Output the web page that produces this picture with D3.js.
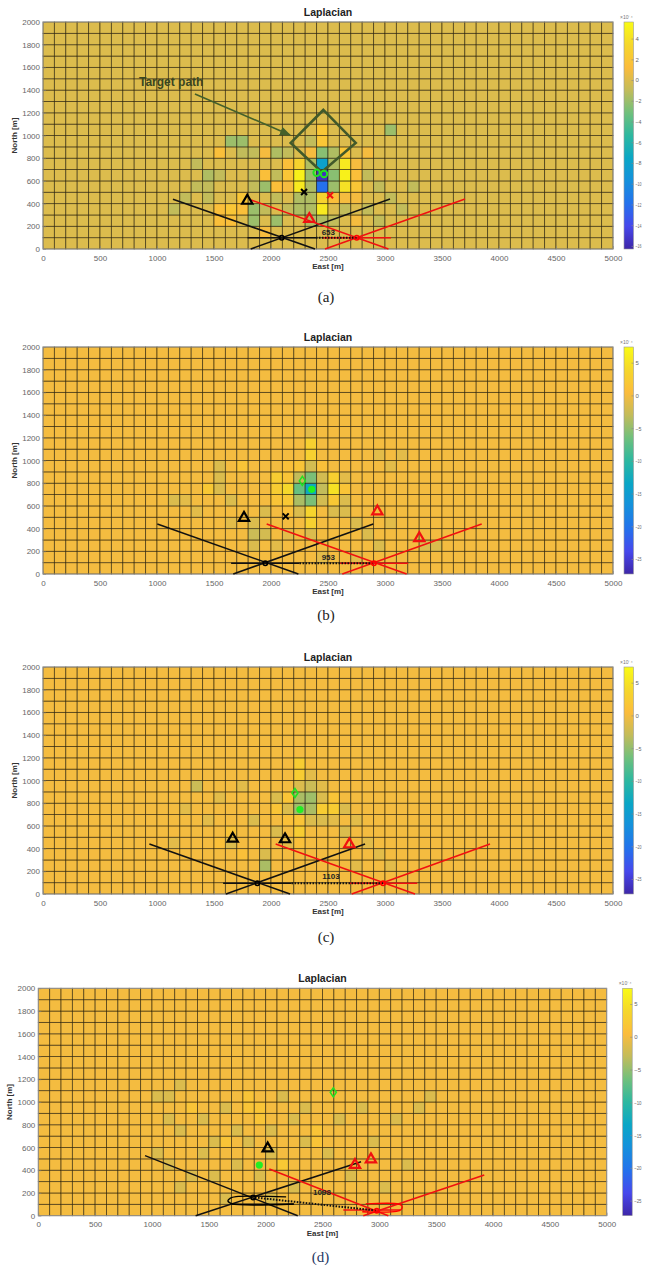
<!DOCTYPE html>
<html><head><meta charset="utf-8">
<script src="https://cdn.jsdelivr.net/npm/d3@7"></script>
<style>body{margin:0;background:#fff}svg{display:block}</style>
</head><body>
<svg id="fig" width="645" height="1265"></svg>
<script>
// ---------- shared ticks ----------
const EAST_TICKS = [0, 500, 1000, 1500, 2000, 2500, 3000, 3500, 4000, 4500, 5000];
const NORTH_TICKS = [0, 200, 400, 600, 800, 1000, 1200, 1400, 1600, 1800, 2000];
const GRID_COLS = 50, GRID_ROWS = 20, CELL_M = 100;
const CB_TICKS_A = [4, 2, 0, -2, -4, -6, -8, -10, -12, -14, -16];
const CB_TICKS_BCD = [5, 0, -5, -10, -15, -20, -25];
const CB_DOMAIN_A = [-16.3, 5.6];
const CB_DOMAIN_BCD = [-27.3, 7.4];
const PARULA = ["#3e26a8","#4748ec","#2471ec","#1590dc","#0aa6c6","#2db8a0","#70c07c","#c3bc5a","#fbbc3c","#f5d72b","#f9fb14"];

// ---------- heat-map anomalies [col,row,value]; all other cells = 0 ----------
const cellsA = [
 [24,10,2],[24,9,2],[24,8,-2.5],[24,7,-8],[24,6,-15.5],[24,5,-12],[24,4,3],[24,3,4.5],[24,2,-1.5],
 [22,7,3],[22,6,5],[22,5,4.5],[22,4,-1.5],[22,3,-1.5],
 [23,9,-1],[23,8,1],[23,7,-1.5],[23,6,-2],[23,5,-1.5],[23,4,-1.5],[23,3,-1.5],[23,2,-1.5],
 [25,8,-1.5],[25,7,-1.5],[25,6,-2.5],[25,5,-2],[25,4,1.5],
 [26,8,2],[26,7,4.5],[26,6,5],[26,5,4],[26,4,1],
 [27,7,1],[27,6,1.5],[27,5,2],[27,4,1],
 [21,8,-1],[21,7,1.5],[21,6,2],[21,5,1],
 [20,8,-1.5],[20,5,1.5],[20,4,-1],[20,2,-2],
 [16,9,-2],[16,3,2],[16,2,1.5],[17,9,-2],[17,8,-1],[17,4,2],[17,3,1.5],
 [15,8,1.5],[15,6,-1],[15,3,1.5],[15,2,1.5],
 [19,6,1.5],[19,5,-2],[19,3,-1],[18,6,-1],[18,5,-1],[18,3,-2],[18,2,-2],
 [14,6,-1.5],[14,5,-1],[14,4,-1],[13,7,-1],[13,5,-1],[12,4,-1],[11,3,-1],
 [30,10,-2],[28,6,-1],[28,3,-1],[29,5,-1],[30,4,-1],[31,3,-1],[32,5,-1],[29,2,-1],[28,8,1],
 [19,8,1],[18,8,-1],[20,6,-1],[21,3,-1],[19,1,1],[25,2,-1],[26,3,-1],[27,2,1]
];
const cellsB = [
 [23,12,-1],[23,11,3],[23,10,3],[23,9,-2],[23,8,-6],[23,7,-13],[23,6,-6],[23,5,3.5],[23,4,3],[23,3,-1.5],
 [22,9,1.5],[22,8,-3],[22,7,-7],[22,6,-4],[22,5,-1.5],
 [21,9,1],[21,8,1.5],[21,7,4],[21,6,2],[21,5,1],
 [20,8,2.5],[20,7,2.5],[20,6,1.5],
 [24,9,1],[24,8,-2],[24,7,-3],[24,6,-2],
 [25,8,3],[25,7,5],[25,6,2],[25,5,-1.5],
 [26,8,-1],[26,7,1.5],[26,6,-1.5],[26,5,-1.5],
 [19,5,-1.5],[19,3,-2],[18,4,-1.5],[18,3,-2.5],[18,2,-1.5],
 [15,9,-1.5],[15,8,-1.5],[15,7,-1.5],[14,7,2],[16,6,-1.5],[11,6,-1.5],[17,9,1.5],
 [29,10,-1],[30,9,-1],[31,10,-1],[33,2,-1.5],[34,2,-1.5],[27,4,-1.5],[28,3,-1.5],[29,2,-1.5],
 [16,4,-1],[13,5,-1],[12,6,-1],[21,3,-1],[20,2,-1],[24,1,-1],[27,1,-1],[30,4,-1]
];
const cellsC = [
 [22,11,2.5],[22,10,2.5],[22,9,-1.5],[22,8,-4],[22,7,-4.5],[22,6,1.5],[22,5,2.5],[22,4,1],
 [23,10,-1],[23,9,-2.5],[23,8,-4.5],[23,7,-4],[23,6,-1.5],
 [21,8,1.5],[21,7,-1.5],[21,6,1],[21,4,-1],
 [24,9,-1],[24,8,-1.5],[24,7,2.5],[24,6,-1.5],
 [25,8,1.5],[25,7,2.5],[25,6,-1],
 [20,8,-1.5],[20,7,1.5],[20,5,-1.5],
 [19,3,-1.5],[19,2,-4],[13,9,-2.5],[16,5,1.5],[16,4,-1.5],[18,6,-1.5],
 [26,7,-1.5],[26,5,-1.5],[27,6,-1],[28,4,-1],[29,3,-1],[30,2,-1],[27,2,-1],
 [14,6,-1],[15,4,1],[17,3,1],[12,7,-1],[11,4,-1],[15,8,-1],[17,9,-1]
];
const cellsD = [
 [10,10,-1.5],[11,10,-1.5],[12,11,-1.5],[11,8,-1.5],[12,7,-1.5],[10,5,-1.5],[11,4,-1.5],[12,2,-1.5],
 [13,9,1.5],[14,8,-1.5],[14,5,-1.5],[15,6,-1.5],[15,3,-1.5],[16,6,1.5],[16,9,-1.5],[17,7,-1.5],[17,4,-1.5],
 [18,10,1.5],[18,9,1.5],[19,9,1.5],[19,8,1.5],[18,6,-1.5],[19,3,-1.5],[20,7,-1.5],[20,5,-1.5],
 [21,4,2],[21,10,-1.5],[22,8,-1.5],[22,2,-1.5],[23,6,-1.5],[23,9,-1.5],
 [24,7,1.5],[24,6,1.5],[25,5,-1.5],[26,8,-1.5],[27,3,-1.5],[28,9,-1.5],[29,6,-1.5],[30,2,-1.5],
 [31,8,-1.5],[32,4,-1.5],[33,9,-1.5],[34,10,-1.5],[13,3,-1.5],[16,1,-1.5],[20,1,-1.5]
];

// ---------- overlays (East, North in metres) ----------
const blackTriA = [[1792,425]], redTriA = [[2336,264]];
const blackCrossA = [[2290,502]], redCrossA = [[2518,473]];
const greenRingA = [[2400,672],[2465,661]];
const blackLinesA = [[[1140,438],[2386,0]], [[1822,0],[3044,440]], [[1794,99],[2394,99]]];
const redLinesA = [[[1825,432],[3030,0]], [[2474,0],[3702,440]], [[2452,99],[3052,99]]];
const dottedA = [[[2394,99],[2752,99]]];
const centersA = [[2094,99,"#000"],[2752,99,"#f00"]];
const distLabelA = [["653",2503,144]];
const targetPathA = [[2459,1225],[2743,935],[2445,678],[2173,935]];
const targetArrowA = [[1333,1366],[2167,1004]];
const targetLabelA = [["Target path",842,1436]];

const blackTriB = [[1763,495]], redTriB = [[2933,551],[3301,316]];
const blackCrossB = [[2129,508]];
const greenDiamondB = [[2275,820]], greenDotB = [[2357,746]];
const blackLinesB = [[[1003,441],[2240,0]], [[1669,0],[2897,441]], [[1650,94],[2250,94]]];
const redLinesB = [[[1962,441],[3190,0]], [[2625,0],[3848,441]], [[2603,94],[3203,94]]];
const dottedB = [[[2250,94],[2903,94]]];
const centersB = [[1950,94,"#000"],[2903,94,"#f00"]];
const distLabelB = [["953",2503,152]];

const blackTriC = [[1664,487],[2123,482]], redTriC = [[2687,438]];
const greenDiamondC = [[2210,890]], greenDotC = [[2254,744]];
const blackLinesC = [[[933,441],[2167,0]], [[1605,0],[2825,441]], [[1580,94],[2180,94]]];
const redLinesC = [[[2041,441],[3263,0]], [[2708,0],[3921,441]], [[2683,94],[3283,94]]];
const dottedC = [[[2180,94],[2983,94]]];
const centersC = [[1880,94,"#000"],[2983,94,"#f00"]];
const distLabelC = [["1103",2526,153]];

const blackTriD = [[2018,592]], redTriD = [[2786,446],[2926,496]];
const greenDiamondD = [[2595,1085]], greenDotD = [[1944,445]];
const blackLinesD = [[[939,528],[2282,0]], [[1384,0],[2839,475]], [[1687,100],[2243,100]]];
const redLinesD = [[[2032,411],[3079,0]], [[2859,0],[3923,358]], [[2683,50],[3182,50]]];
const blackLoopD = [[2180,166],[1740,168],[1690,155],[1668,130],[1700,106],[2250,103]];
const redLoopD = [[2880,104],[3170,103],[3200,85],[3192,55],[3150,38],[2850,35]];
const dottedD = [[[1906,160],[2977,45]]];
const centersD = [[1890,160,"#000"],[2977,44,"#f00"]];
const distLabelD = [["1098",2495,210]];

// ---------- layout ----------
const PANELS = [
 {x0:43, x1:613, y0:22, y1:249, cbx:624, cbw:9.5, domain:CB_DOMAIN_A, cbTicks:CB_TICKS_A, cells:cellsA, caption:"(a)", capY:302, capColor:"#222",
  blackTri:blackTriA, redTri:redTriA, blackCross:blackCrossA, redCross:redCrossA, greenRing:greenRingA, greenDiamond:[], greenDot:[],
  blackLines:blackLinesA, redLines:redLinesA, dotted:dottedA, centers:centersA, dist:distLabelA, loops:[],
  target:targetPathA, arrow:targetArrowA, targetLabel:targetLabelA},
 {x0:43, x1:613, y0:347, y1:574, cbx:624, cbw:9.5, domain:CB_DOMAIN_BCD, cbTicks:CB_TICKS_BCD, cells:cellsB, caption:"(b)", capY:620, capColor:"#222",
  blackTri:blackTriB, redTri:redTriB, blackCross:blackCrossB, redCross:[], greenRing:[], greenDiamond:greenDiamondB, greenDot:greenDotB,
  blackLines:blackLinesB, redLines:redLinesB, dotted:dottedB, centers:centersB, dist:distLabelB, loops:[]},
 {x0:43, x1:613, y0:667, y1:894, cbx:624, cbw:9.5, domain:CB_DOMAIN_BCD, cbTicks:CB_TICKS_BCD, cells:cellsC, caption:"(c)", capY:942, capColor:"#222",
  blackTri:blackTriC, redTri:redTriC, blackCross:[], redCross:[], greenRing:[], greenDiamond:greenDiamondC, greenDot:greenDotC,
  blackLines:blackLinesC, redLines:redLinesC, dotted:dottedC, centers:centersC, dist:distLabelC, loops:[]},
 {x0:38.3, x1:606.7, y0:988.3, y1:1215.7, cbx:622.7, cbw:9.5, domain:CB_DOMAIN_BCD, cbTicks:CB_TICKS_BCD, cells:cellsD, caption:"(d)", capY:1262, capColor:"#1f3864",
  blackTri:blackTriD, redTri:redTriD, blackCross:[], redCross:[], greenRing:[], greenDiamond:greenDiamondD, greenDot:greenDotD,
  blackLines:blackLinesD, redLines:redLinesD, dotted:dottedD, centers:centersD, dist:distLabelD,
  loops:[[blackLoopD,"#000"],[redLoopD,"#f00"]]}
];

const LABEL_RIGHT_LIMIT = 641.5;
const svg = d3.select("#fig");
const defs = svg.append("defs");
defs.append("marker").attr("id","arrowG").attr("viewBox","0 0 10 10").attr("refX",9).attr("refY",5)
  .attr("markerWidth",7).attr("markerHeight",7).attr("orient","auto")
  .append("path").attr("d","M0,1 L10,5 L0,9 Z").attr("fill","#44602a");

PANELS.forEach((p, pi) => {
  const g = svg.append("g");
  const x = d3.scaleLinear().domain([0, GRID_COLS*CELL_M]).range([p.x0, p.x1]);
  const y = d3.scaleLinear().domain([0, GRID_ROWS*CELL_M]).range([p.y1, p.y0]);
  const color = d3.scaleSequential(d3.piecewise(d3.interpolateRgb, PARULA)).domain(p.domain);

  const vals = new Map();
  p.cells.forEach(([c, r, v]) => vals.set(c + "," + r, v));
  const grid = [];
  for (let c = 0; c < GRID_COLS; c++) for (let r = 0; r < GRID_ROWS; r++)
    grid.push({c, r, v: vals.has(c + "," + r) ? vals.get(c + "," + r) : 0});

  g.append("g").selectAll("rect").data(grid).join("rect")
    .attr("x", d => x(d.c*CELL_M)).attr("y", d => y((d.r+1)*CELL_M))
    .attr("width", x(CELL_M) - x(0)).attr("height", y(0) - y(CELL_M))
    .attr("fill", d => color(d.v))
    .attr("stroke", "rgba(25,18,0,0.6)").attr("stroke-width", 0.9);

  g.append("rect").attr("x", p.x0).attr("y", p.y0).attr("width", p.x1-p.x0).attr("height", p.y1-p.y0)
    .attr("fill","none").attr("stroke","#9a9a9a").attr("stroke-width",0.8);
  const styleAxis = sel => {
    sel.select(".domain").remove();
    sel.selectAll(".tick line").attr("stroke","#888").attr("stroke-width",0.6);
    sel.selectAll(".tick text").attr("fill","#666").attr("font-size","8px").attr("font-family","Liberation Sans, Arial, sans-serif");
  };
  g.append("g").attr("transform",`translate(0,${p.y1})`)
    .call(d3.axisBottom(x).tickValues(EAST_TICKS).tickFormat(d3.format("d")).tickSize(-3).tickPadding(6)).call(styleAxis);
  g.append("g").attr("transform",`translate(${p.x0},0)`)
    .call(d3.axisLeft(y).tickValues(NORTH_TICKS).tickFormat(d3.format("d")).tickSize(-3).tickPadding(3)).call(styleAxis);

  const cx = (p.x0 + p.x1)/2;
  g.append("text").attr("x", cx).attr("y", p.y0 - 6).attr("text-anchor","middle")
    .attr("font-family","Liberation Sans, Arial, sans-serif").attr("font-weight","bold").attr("font-size","10.5px").attr("fill","#222").text("Laplacian");
  g.append("text").attr("x", cx).attr("y", p.y1 + 20).attr("text-anchor","middle")
    .attr("font-family","Liberation Sans, Arial, sans-serif").attr("font-weight","bold").attr("font-size","8px").attr("fill","#333").text("East [m]");
  g.append("text").attr("transform",`translate(${p.x0 - 26},${(p.y0+p.y1)/2}) rotate(-90)`).attr("text-anchor","middle")
    .attr("font-family","Liberation Sans, Arial, sans-serif").attr("font-weight","bold").attr("font-size","8px").attr("fill","#333").text("North [m]");
  g.append("text").attr("x", cx - 2).attr("y", p.capY).attr("text-anchor","middle")
    .attr("font-family","Liberation Serif, serif").attr("font-size","15px").attr("fill",p.capColor).text(p.caption);

  // colorbar
  const gid = "cbgrad" + pi;
  const grad = defs.append("linearGradient").attr("id", gid).attr("x1","0").attr("y1","1").attr("x2","0").attr("y2","0");
  d3.range(0, 1.0001, 0.025).forEach(t => {
    grad.append("stop").attr("offset", t).attr("stop-color", color(p.domain[0] + t*(p.domain[1]-p.domain[0])));
  });
  g.append("rect").attr("x", p.cbx).attr("y", p.y0).attr("width", p.cbw).attr("height", p.y1 - p.y0)
    .attr("fill", `url(#${gid})`).attr("stroke","#999").attr("stroke-width",0.6);
  const cbScale = d3.scaleLinear().domain(p.domain).range([p.y1, p.y0]);
  const cbAxis = g.append("g").attr("transform",`translate(${p.cbx + p.cbw},0)`)
    .call(d3.axisRight(cbScale).tickValues(p.cbTicks).tickSize(-2).tickPadding(2)).call(styleAxis);
  const labelX0 = p.cbx + p.cbw + 2;
  cbAxis.selectAll(".tick text").attr("font-size","6px").each(function() {
    const avail = LABEL_RIGHT_LIMIT - labelX0;
    const len = this.getComputedTextLength();
    if (len > avail) d3.select(this).attr("textLength", avail).attr("lengthAdjust","spacingAndGlyphs");
  });
  g.append("text").attr("x", p.cbx - 4).attr("y", p.y0 - 3).attr("font-size","5px").attr("fill","#777")
    .attr("font-family","Liberation Sans, Arial, sans-serif").text("×10⁻⁴");

  // overlays
  const line = d3.line().x(d => x(d[0])).y(d => y(d[1]));
  const ov = g.append("g");
  ov.selectAll(".bl").data(p.blackLines).join("path").attr("d", line).attr("fill","none").attr("stroke","#111").attr("stroke-width",1.5);
  ov.selectAll(".rl").data(p.redLines).join("path").attr("d", line).attr("fill","none").attr("stroke","#f01010").attr("stroke-width",1.5);
  ov.selectAll(".lp").data(p.loops).join("path").attr("d", d => d3.line().x(q => x(q[0])).y(q => y(q[1])).curve(d3.curveCatmullRom)(d[0]))
    .attr("fill","none").attr("stroke", d => d[1]).attr("stroke-width",1.4);
  ov.selectAll(".dt").data(p.dotted).join("path").attr("d", line).attr("fill","none").attr("stroke","#111")
    .attr("stroke-width",2).attr("stroke-dasharray","1.6,1.4");
  ov.selectAll(".ct").data(p.centers).join("circle").attr("cx", d => x(d[0])).attr("cy", d => y(d[1])).attr("r",2.2)
    .attr("fill","none").attr("stroke", d => d[2]).attr("stroke-width",1.6);
  ov.selectAll(".dl").data(p.dist).join("text").attr("x", d => x(d[1])).attr("y", d => y(d[2])).attr("dy","0.35em")
    .attr("text-anchor","middle").attr("font-family","Liberation Sans, Arial, sans-serif").attr("font-weight","bold")
    .attr("font-size","8px").attr("fill","#222").text(d => d[0]);

  if (p.target) {
    ov.append("path").datum(p.target).attr("d", d => line(d) + "Z").attr("fill","none").attr("stroke","#41592a").attr("stroke-width",2.6);
    ov.append("path").datum(p.arrow).attr("d", line).attr("fill","none").attr("stroke","#44602a").attr("stroke-width",1.6).attr("marker-end","url(#arrowG)");
    ov.selectAll(".tl").data(p.targetLabel).join("text").attr("x", d => x(d[1])).attr("y", d => y(d[2]))
      .attr("font-family","Liberation Sans, Arial, sans-serif").attr("font-weight","bold").attr("font-size","12px").attr("fill","#3a4520").text(d => d[0]);
  }

  const tri = d3.symbol(d3.symbolTriangle, 46)();
  ov.selectAll(".bt").data(p.blackTri).join("path").attr("d", tri).attr("transform", d => `translate(${x(d[0])},${y(d[1])})`)
    .attr("fill","none").attr("stroke","#000").attr("stroke-width",2.2);
  ov.selectAll(".rt").data(p.redTri).join("path").attr("d", tri).attr("transform", d => `translate(${x(d[0])},${y(d[1])})`)
    .attr("fill","none").attr("stroke","#f01010").attr("stroke-width",2.2);
  const cross = "M-3,-3L3,3M-3,3L3,-3";
  ov.selectAll(".bx").data(p.blackCross).join("path").attr("d", cross).attr("transform", d => `translate(${x(d[0])},${y(d[1])})`)
    .attr("stroke","#000").attr("stroke-width",2);
  ov.selectAll(".rx").data(p.redCross).join("path").attr("d", cross).attr("transform", d => `translate(${x(d[0])},${y(d[1])})`)
    .attr("stroke","#f01010").attr("stroke-width",2);
  ov.selectAll(".gr").data(p.greenRing).join("circle").attr("cx", d => x(d[0])).attr("cy", d => y(d[1])).attr("r",3.2)
    .attr("fill","none").attr("stroke","#22e022").attr("stroke-width",2);
  ov.selectAll(".gd").data(p.greenDiamond).join("path").attr("d","M0,-4.5L3,0L0,4.5L-3,0Z").attr("transform", d => `translate(${x(d[0])},${y(d[1])})`)
    .attr("fill","none").attr("stroke","#22e022").attr("stroke-width",1.6);
  ov.selectAll(".gdot").data(p.greenDot).join("circle").attr("cx", d => x(d[0])).attr("cy", d => y(d[1])).attr("r",3.6)
    .attr("fill","#22ee22");
});
</script>
</body></html>
